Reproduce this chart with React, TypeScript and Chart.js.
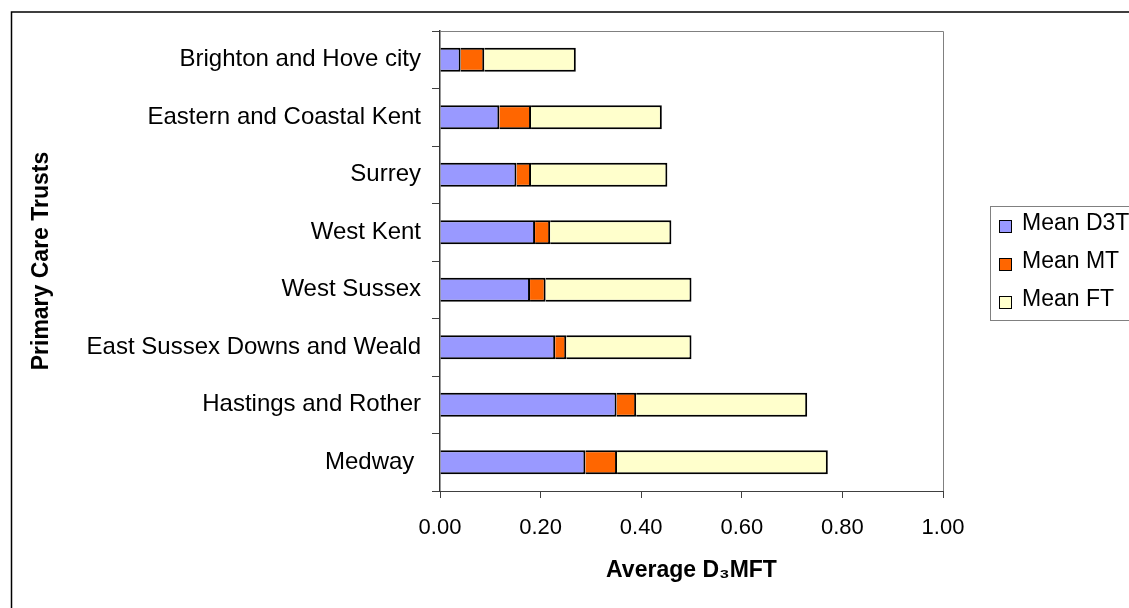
import React, { useEffect, useRef } from "react";
import { Chart, registerables } from "chart.js";

Chart.register(...registerables);

const categories = [
  "Brighton and Hove city",
  "Eastern and Coastal Kent",
  "Surrey",
  "West Kent",
  "West Sussex",
  "East Sussex Downs and Weald",
  "Hastings and Rother",
  "Medway ",
];
const meanD3T = [0.041, 0.118, 0.152, 0.189, 0.179, 0.229, 0.351, 0.289];
const meanMT = [0.047, 0.063, 0.029, 0.03, 0.031, 0.022, 0.039, 0.063];
const meanFT = [0.182, 0.26, 0.271, 0.241, 0.29, 0.249, 0.34, 0.419];
const seriesNames = ["Mean D3T", "Mean MT", "Mean FT"];
const seriesColors = ["#9999FF", "#FF6600", "#FFFFCC"];
const xTitle = "Average D\u2083MFT";
const yTitle = "Primary Care Trusts";

const FONT = "'Liberation Sans', Arial, sans-serif";

const framePlugin = {
  id: "frame",
  beforeDraw(chart: any) {
    const ctx = chart.ctx;
    ctx.save();
    ctx.fillStyle = "#ffffff";
    ctx.fillRect(0, 0, chart.width, chart.height);
    ctx.strokeStyle = "#000000";
    ctx.lineWidth = 1.5;
    ctx.beginPath();
    ctx.moveTo(11.5, chart.height + 10);
    ctx.lineTo(11.5, 12);
    ctx.lineTo(chart.width + 10, 12);
    ctx.stroke();
    ctx.restore();
  },
  afterDraw(chart: any) {
    const ctx = chart.ctx;
    const a = chart.chartArea;
    ctx.save();
    ctx.strokeStyle = "#808080";
    ctx.lineWidth = 1;
    ctx.beginPath();
    ctx.moveTo(a.left, a.top + 0.5);
    ctx.lineTo(a.right + 0.5, a.top + 0.5);
    ctx.lineTo(a.right + 0.5, a.bottom);
    ctx.stroke();

    // legend
    const boxX = 990.5;
    const boxY = 206.5;
    ctx.strokeRect(boxX, boxY, 300, 114);
    ctx.font = `23px ${FONT}`;
    ctx.textBaseline = "middle";
    ctx.textAlign = "left";
    chart.data.datasets.forEach((ds: any, i: number) => {
      const cy = 224 + i * 38;
      ctx.fillStyle = ds.backgroundColor;
      ctx.fillRect(999, cy - 4, 12, 12);
      ctx.strokeStyle = "#000000";
      ctx.lineWidth = 1;
      ctx.strokeRect(999.5, cy - 3.5, 12, 12);
      ctx.fillStyle = "#000000";
      ctx.fillText(ds.label, 1022, cy);
    });
    ctx.restore();
  },
};

export default function App() {
  const ref = useRef<HTMLCanvasElement | null>(null);
  useEffect(() => {
    if (!ref.current) return;
    const data = [meanD3T, meanMT, meanFT];
    const chart = new Chart(ref.current, {
      type: "bar",
      data: {
        labels: categories,
        datasets: seriesNames.map((name, i) => ({
          label: name,
          data: data[i],
          backgroundColor: seriesColors[i],
          borderColor: "#000000",
          borderWidth: 2,
          borderSkipped: "start",
          barPercentage: 0.42,
          categoryPercentage: 1,
        })),
      },
      options: {
        indexAxis: "y",
        responsive: false,
        animation: false,
        layout: { padding: { left: 0, top: 31, right: 186, bottom: 0 } },
        plugins: {
          legend: { display: false },
          tooltip: { enabled: false },
        },
        scales: {
          x: {
            stacked: true,
            min: 0,
            max: 1,
            afterFit(scale: any) {
              scale.height = 117;
            },
            ticks: {
              stepSize: 0.2,
              maxRotation: 0,
              padding: 17,
              color: "#000000",
              font: { family: FONT, size: 22 },
              callback: (v: any) => Number(v).toFixed(2),
            },
            grid: {
              drawOnChartArea: false,
              drawTicks: true,
              tickLength: 7,
              color: "#404040",
            },
            border: { display: true, color: "#404040", width: 1 },
            title: {
              display: true,
              text: xTitle,
              color: "#000000",
              font: { family: FONT, size: 23, weight: "bold" },
              padding: { top: 0, bottom: 24 },
            },
          },
          y: {
            stacked: true,
            afterFit(scale: any) {
              scale.width = 440;
            },
            ticks: {
              autoSkip: false,
              padding: 11,
              color: "#000000",
              font: { family: FONT, size: 24 },
            },
            grid: {
              drawOnChartArea: false,
              drawTicks: true,
              tickLength: 8,
              offset: true,
              color: "#404040",
            },
            border: { display: true, color: "#333333", width: 1.5 },
            title: {
              display: true,
              text: yTitle,
              color: "#000000",
              font: { family: FONT, size: 23, weight: "bold" },
              padding: { top: 28, bottom: 0 },
            },
          },
        },
      },
      plugins: [framePlugin],
    });
    return () => chart.destroy();
  }, []);
  return (
    <div style={{ position: "fixed", left: 0, top: 0, width: 1129, height: 608 }}>
      <canvas ref={ref} width={1129} height={608} />
    </div>
  );
}
